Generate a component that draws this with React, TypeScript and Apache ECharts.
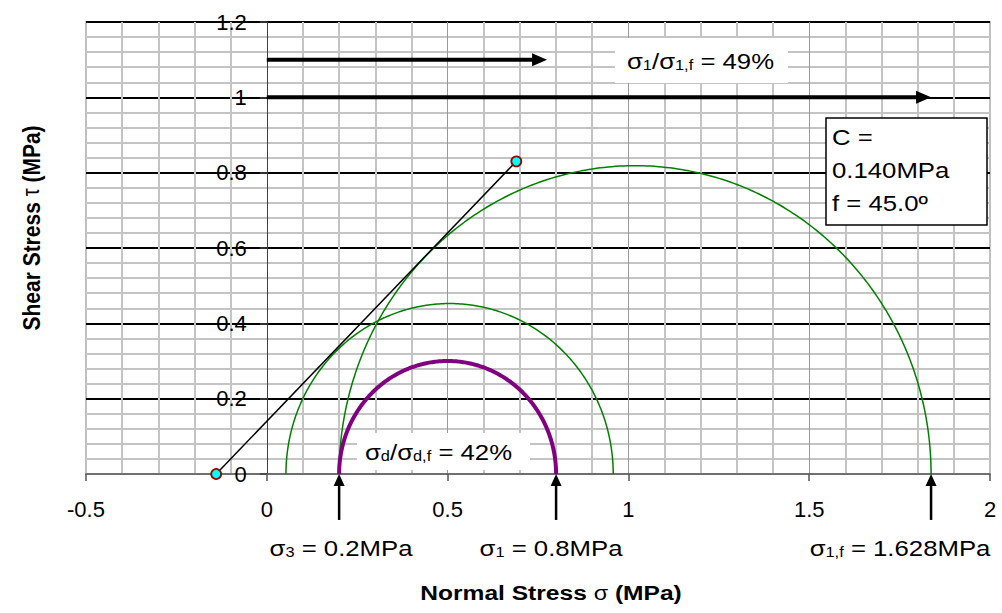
import React, { useEffect, useRef } from "react";
import * as echarts from "echarts";

// ---- data ----
const xAxisRange = [-0.5, 2];
const yAxisRange = [0, 1.2];

// Mohr circles: [sigma3, sigma1] end points on the sigma axis
const circleSigma3 = [0.053, 0.2, 0.2];
const circleSigma1 = [0.958, 1.837, 0.8];
const circleNames = ["Mohr circle A", "Failure circle", "Current circle"];

// Failure envelope end points
const envelopeSigma = [-0.14, 0.69];
const envelopeTau = [0, 0.83];

// Horizontal ratio arrows: [sigmaStart, tau, sigmaEnd]
const hArrowStart = [0, 0];
const hArrowTau = [1.1, 1.0];
const hArrowEnd = [0.775, 1.837];

// Vertical arrows marking sigma values on the axis
const vArrowSigma = [0.2, 0.8, 1.837];
const vArrowBottomTau = -0.122;

const FONT = '"Liberation Sans", Arial, sans-serif';

const GRID_LEFT = 86;
const GRID_RIGHT = 12;
const PLOT_W = 1002 - GRID_LEFT - GRID_RIGHT;

function circlePoints(a: number, b: number) {
  const c = (a + b) / 2;
  const r = (b - a) / 2;
  const pts: number[][] = [];
  for (let i = 0; i <= 240; i++) {
    const t = (Math.PI * i) / 240;
    pts.push([c - r * Math.cos(t), r * Math.sin(t)]);
  }
  return pts;
}

function arrowRenderer(lineW: number, headLen: number, headHalf: number) {
  return (params: any, api: any) => {
    const p0 = api.coord([api.value(0), api.value(1)]);
    const p1 = api.coord([api.value(2), api.value(3)]);
    const dx = p1[0] - p0[0];
    const dy = p1[1] - p0[1];
    const len = Math.hypot(dx, dy) || 1;
    const ux = dx / len;
    const uy = dy / len;
    const bx = p1[0] - ux * headLen;
    const by = p1[1] - uy * headLen;
    const nx = -uy;
    const ny = ux;
    return {
      type: "group",
      children: [
        {
          type: "line",
          shape: { x1: p0[0], y1: p0[1], x2: bx + ux, y2: by + uy },
          style: { stroke: "#000", lineWidth: lineW },
        },
        {
          type: "polygon",
          shape: {
            points: [
              [p1[0], p1[1]],
              [bx + nx * headHalf, by + ny * headHalf],
              [bx - nx * headHalf, by - ny * headHalf],
            ],
          },
          style: { fill: "#000" },
        },
      ],
    };
  };
}

const richBase = {
  n: { fontSize: 22, fontFamily: FONT, color: "#000" },
  sub: { fontSize: 14, fontFamily: FONT, color: "#000", verticalAlign: "bottom" },
};

export default function App() {
  const ref = useRef<HTMLDivElement>(null);

  useEffect(() => {
    document.body.style.margin = "0";
    if (!ref.current) return;
    const chart = echarts.init(ref.current, null, { renderer: "svg" });

    const circleColors = ["#008000", "#008000", "#800080"];
    const circleWidths = [1.5, 1.5, 4];

    const circleSeries = circleSigma3.map((s3, i) => ({
      name: circleNames[i],
      type: "line",
      data: circlePoints(s3, circleSigma1[i]),
      showSymbol: false,
      symbol: "none",
      clip: false,
      lineStyle: { color: circleColors[i], width: circleWidths[i] },
      z: i === 2 ? 4 : 3,
    }));

    const hArrowData = hArrowStart.map((s, i) => [s, hArrowTau[i], hArrowEnd[i], hArrowTau[i]]);
    const vArrowData = vArrowSigma.map((s) => [s, vArrowBottomTau, s, 0]);

    // the vertical axis crosses sigma = 0: shift it in from the grid edge
    const yAxisOffset =
      -((0 - xAxisRange[0]) / (xAxisRange[1] - xAxisRange[0])) * PLOT_W;

    const scaleX = 1.17;

    chart.setOption({
      animation: false,
      grid: {
        left: GRID_LEFT,
        right: GRID_RIGHT,
        top: 22,
        bottom: 139,
        show: true,
        borderColor: "#c0c0c0",
        borderWidth: 2,
        backgroundColor: "transparent",
      },
      xAxis: {
        type: "value",
        min: xAxisRange[0],
        max: xAxisRange[1],
        interval: 0.5,
        axisLine: { onZero: true, lineStyle: { color: "#555", width: 1.5 } },
        axisTick: { show: true, length: 7, lineStyle: { color: "#555", width: 1.5 } },
        axisLabel: { fontSize: 22, color: "#000", margin: 24, fontFamily: FONT },
        splitLine: {
          show: true,
          showMinLine: false,
          showMaxLine: false,
          lineStyle: { color: "#999", width: 1 },
        },
        minorTick: { show: false, splitNumber: 5 },
        minorSplitLine: { show: true, lineStyle: { color: "#c4c4c4", width: 2 } },
      },
      yAxis: {
        type: "value",
        min: yAxisRange[0],
        max: yAxisRange[1],
        interval: 0.2,
        offset: yAxisOffset,
        axisLine: { show: true, onZero: false, lineStyle: { color: "#404040", width: 1 } },
        axisTick: { show: true, length: 7, lineStyle: { color: "#404040", width: 1.5 } },
        axisLabel: { fontSize: 22, color: "#000", margin: 20, fontFamily: FONT },
        splitLine: {
          show: true,
          showMinLine: false,
          lineStyle: { color: "#000", width: 2 },
        },
        minorTick: { show: false, splitNumber: 5 },
        minorSplitLine: { show: true, lineStyle: { color: "#c4c4c4", width: 2 } },
      },
      series: [
        ...circleSeries,
        {
          name: "Failure envelope",
          type: "line",
          data: envelopeSigma.map((s, i) => [s, envelopeTau[i]]),
          symbol: "circle",
          symbolSize: 10,
          showSymbol: true,
          clip: false,
          lineStyle: { color: "#000", width: 1.5 },
          itemStyle: { color: "#00ffff", borderColor: "#990000", borderWidth: 1.8 },
          z: 6,
        },
        {
          name: "Ratio arrows",
          type: "custom",
          data: hArrowData,
          encode: { x: [0, 2], y: [1, 3] },
          renderItem: arrowRenderer(4, 15, 6.5),
          clip: false,
          z: 5,
        },
        {
          name: "Sigma markers",
          type: "custom",
          data: vArrowData,
          encode: { x: [0, 2], y: [1, 3] },
          renderItem: arrowRenderer(2.5, 12, 5.5),
          clip: false,
          z: 5,
        },
      ],
      graphic: [
        {
          type: "text",
          x: 31,
          y: 228,
          rotation: Math.PI / 2,
          scaleY: 1.17,
          z: 100,
          style: {
            text: "{b|Shear Stress }{g|τ}{b| (MPa)}",
            rich: {
              b: { fontSize: 21, fontWeight: "bold", fontFamily: FONT, color: "#000" },
              g: { fontSize: 20, fontFamily: FONT, color: "#000" },
            },
            align: "center",
            textAlign: "center",
            verticalAlign: "middle",
            textVerticalAlign: "middle",
          },
        },
        {
          type: "text",
          x: 551,
          y: 593,
          scaleX: scaleX,
          z: 100,
          style: {
            text: "{b|Normal Stress }{g|σ}{b| (MPa)}",
            rich: {
              b: { fontSize: 21, fontWeight: "bold", fontFamily: FONT, color: "#000" },
              g: { fontSize: 20, fontFamily: FONT, color: "#000", verticalAlign: "bottom" },
            },
            align: "center",
            textAlign: "center",
            verticalAlign: "middle",
            textVerticalAlign: "middle",
          },
        },
        {
          type: "rect",
          z: 99,
          shape: { x: 615, y: 38, width: 173, height: 45 },
          style: { fill: "#fff" },
        },
        {
          type: "text",
          x: 627,
          y: 61,
          scaleX: scaleX,
          z: 100,
          style: {
            text: "{n|σ}{sub|1}{n|/σ}{sub|1,f}{n| = 49%}",
            rich: richBase,
            align: "left",
            textAlign: "left",
            verticalAlign: "middle",
            textVerticalAlign: "middle",
          },
        },
        {
          type: "rect",
          z: 99,
          shape: { x: 826, y: 118, width: 161, height: 107 },
          style: { fill: "#fff", stroke: "#000", lineWidth: 1.5 },
        },
        {
          type: "text",
          x: 832,
          y: 121,
          scaleX: scaleX,
          z: 100,
          style: {
            text: "C =\n0.140MPa\nf = 45.0º",
            fontSize: 22,
            fontFamily: FONT,
            fill: "#000",
            lineHeight: 33,
            align: "left",
            textAlign: "left",
            verticalAlign: "top",
            textVerticalAlign: "top",
          },
        },
        {
          type: "rect",
          z: 99,
          shape: { x: 357, y: 433, width: 173, height: 37 },
          style: { fill: "#fff" },
        },
        {
          type: "text",
          x: 365,
          y: 452,
          scaleX: scaleX,
          z: 100,
          style: {
            text: "{n|σ}{sub|d}{n|/σ}{sub|d,f}{n| = 42%}",
            rich: richBase,
            align: "left",
            textAlign: "left",
            verticalAlign: "middle",
            textVerticalAlign: "middle",
          },
        },
        {
          type: "text",
          x: 341,
          y: 548,
          scaleX: scaleX,
          z: 100,
          style: {
            text: "{n|σ}{sub|3}{n| = 0.2MPa}",
            rich: richBase,
            align: "center",
            textAlign: "center",
            verticalAlign: "middle",
            textVerticalAlign: "middle",
          },
        },
        {
          type: "text",
          x: 551,
          y: 548,
          scaleX: scaleX,
          z: 100,
          style: {
            text: "{n|σ}{sub|1}{n| = 0.8MPa}",
            rich: richBase,
            align: "center",
            textAlign: "center",
            verticalAlign: "middle",
            textVerticalAlign: "middle",
          },
        },
        {
          type: "text",
          x: 900,
          y: 548,
          scaleX: scaleX,
          z: 100,
          style: {
            text: "{n|σ}{sub|1,f}{n| = 1.628MPa}",
            rich: richBase,
            align: "center",
            textAlign: "center",
            verticalAlign: "middle",
            textVerticalAlign: "middle",
          },
        },
      ],
    });

    return () => {
      chart.dispose();
    };
  }, []);

  return <div ref={ref} style={{ width: 1002, height: 613, background: "#fff" }} />;
}
